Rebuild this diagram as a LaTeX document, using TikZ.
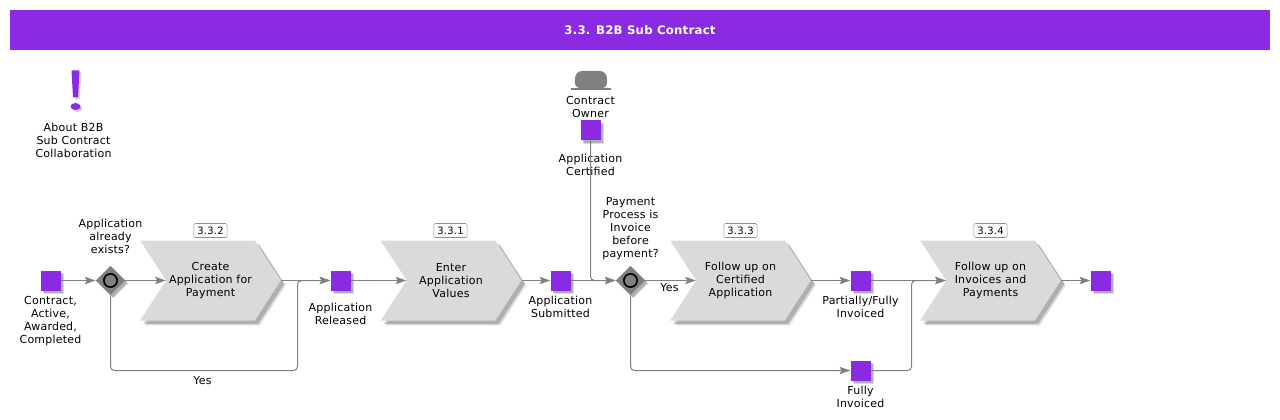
\documentclass[tikz,border=0pt]{standalone}
\usepackage{fontspec}
\setmainfont[LetterSpace=2]{DejaVu Sans}
\usetikzlibrary{positioning,arrows.meta,shapes.geometric,shapes.symbols,shadows}
\definecolor{bandviolet}{HTML}{8A2BE2}
\definecolor{stepgray}{HTML}{D9DADB}
\definecolor{linegray}{HTML}{808080}
\tikzset{
  softshadow/.style={
    drop shadow={shadow xshift=#1,shadow yshift=-#1,fill=black,opacity=.14},
    drop shadow={shadow xshift=.7*#1,shadow yshift=-.7*#1,fill=black,opacity=.2}
  },
  stepbox/.style={
    signal,
    signal to=east,
    signal from=west,
    signal pointer angle=114,
    fill=stepgray,
    softshadow=3.6pt,
    align=center,
    inner sep=0pt,
    minimum width=105.5pt,
    minimum height=60pt
  },
  eventbox/.style={
    fill=bandviolet,
    softshadow=2.4pt,
    inner sep=0pt,
    minimum size=15pt
  },
  gatebox/.style={
    diamond,
    fill=black!50,
    softshadow=2.4pt,
    inner sep=0pt,
    minimum size=22pt,
    path picture={
      \draw[black,line width=1.2pt] (path picture bounding box.center) circle (5pt);
    }
  },
  tagbox/.style={
    draw=black!45,
    rounded corners=1.5pt,
    fill=white,
    font=\fontsize{7.5}{9}\selectfont,
    inner sep=0pt,
    minimum width=25pt,
    minimum height=10.5pt
  },
  conn/.style={
    draw=linegray,
    line width=.75pt,
    rounded corners=3pt
  },
  arrowconn/.style={conn,-{Stealth[length=8pt,width=5.5pt,inset=1.5pt,color=linegray]}},
  caption/.style={align=center,inner sep=0pt}
}

\begin{document}
\begin{tikzpicture}[
    x=.75pt,y=-.75pt,
    every node/.style={font=\fontsize{8.25}{9.75}\selectfont},
    node distance=4pt
  ]
  \useasboundingbox (-.5,-.5) rectangle (1279.5,419.5);

  % header band
  \node[fill=bandviolet,text=white,inner sep=0pt,minimum width=945pt,minimum height=30pt,
    font=\fontsize{8.8}{11}\bfseries\selectfont] (band) at (639.5,29.5) {3.3. B2B Sub Contract};

  % events
  \node[eventbox] (start) at (50,280) {};
  \node[eventbox] (released) at (340,280) {};
  \node[eventbox] (submitted) at (560,280) {};
  \node[eventbox] (certified) at (590,130) {};
  \node[eventbox] (partial) at (860,280) {};
  \node[eventbox] (fully) at (860,370) {};
  \node[eventbox] (finish) at (1100,280) {};

  % gateways
  \node[gatebox] (existsgate) at (110,280) {};
  \node[gatebox] (paygate) at (630,280) {};

  % process steps
  \node[stepbox] (create) at (210,280) {Create\\Application for\\Payment};
  \node[stepbox] (enter) at (450.5,280) {Enter\\Application\\Values};
  \node[stepbox] (follow) at (740,280) {Follow up on\\Certified\\Application};
  \node[stepbox] (invoices) at (990,280) {Follow up on\\Invoices and\\Payments};

  \node[tagbox] (tagcreate) at (210,230) {3.3.2};
  \node[tagbox] (tagenter) at (450,230) {3.3.1};
  \node[tagbox] (tagfollow) at (740,230) {3.3.3};
  \node[tagbox] (taginvoices) at (990,230) {3.3.4};

  % captions
  \node[caption,below=of start] (startcap) {Contract,\\Active,\\Awarded,\\Completed};
  \node[caption,above=9pt of existsgate] (existscap) {Application\\already\\exists?};
  \node[caption,below=9pt of released] (releasedcap) {Application\\Released};
  \node[caption,below=of submitted] (submittedcap) {Application\\Submitted};
  \node[caption,below=10pt of certified] (certifiedcap) {Application\\Certified};
  \node[caption,above=1.5pt of certified] (ownercap) {Contract\\Owner};
  \node[caption,above=4pt of paygate] (paycap) {Payment\\Process is\\Invoice\\before\\payment?};
  \node[caption,below=of partial] (partialcap) {Partially/Fully\\Invoiced};
  \node[caption,below=of fully] (fullycap) {Fully\\Invoiced};
  \node[caption] (aboutcap) at (73,140) {About B2B\\Sub Contract\\Collaboration};
  \node[caption] (yesleft) at (202,380) {Yes};
  \node[caption] (yesright) at (669,287) {Yes};

  % connectors
  \draw[arrowconn] (start) -- (existsgate);
  \draw[arrowconn] (existsgate) -- (create.west);
  \draw[arrowconn] (create.east) -- (released);
  \draw[arrowconn] (existsgate.south) |- (297,370) |- (released.west);
  \draw[arrowconn] (released) -- (enter.west);
  \draw[arrowconn] (enter.east) -- (submitted);
  \draw[arrowconn] (submitted) -- (paygate);
  \draw[arrowconn] (certified) |- (paygate.west);
  \draw[arrowconn] (paygate) -- (follow.west);
  \draw[arrowconn] (follow.east) -- (partial);
  \draw[arrowconn] (partial) -- (invoices.west);
  \draw[arrowconn] (paygate.south) |- (fully);
  \draw[arrowconn] (fully) -| (911,280) -- (invoices.west);
  \draw[arrowconn] (invoices.east) -- (finish);

  % role hat
  \fill[black!50,rounded corners=5pt] (574,88) -- (575,70.5) -- (606,70.5) -- (607,88) -- cycle;
  \fill[black!50] (570,87.5) rectangle (610,90);

  % exclamation mark
  \fill[black!18] (73,72) -- (81,72) -- (79,99) -- (75,99) -- cycle;
  \fill[black!18] (77,108) ellipse (5 and 3.5);
  \fill[bandviolet] (71,70) -- (79,70) -- (77.5,97) -- (72.5,97) -- cycle;
  \fill[bandviolet] (75,106) ellipse (5 and 3.5);
\end{tikzpicture}
\end{document}
